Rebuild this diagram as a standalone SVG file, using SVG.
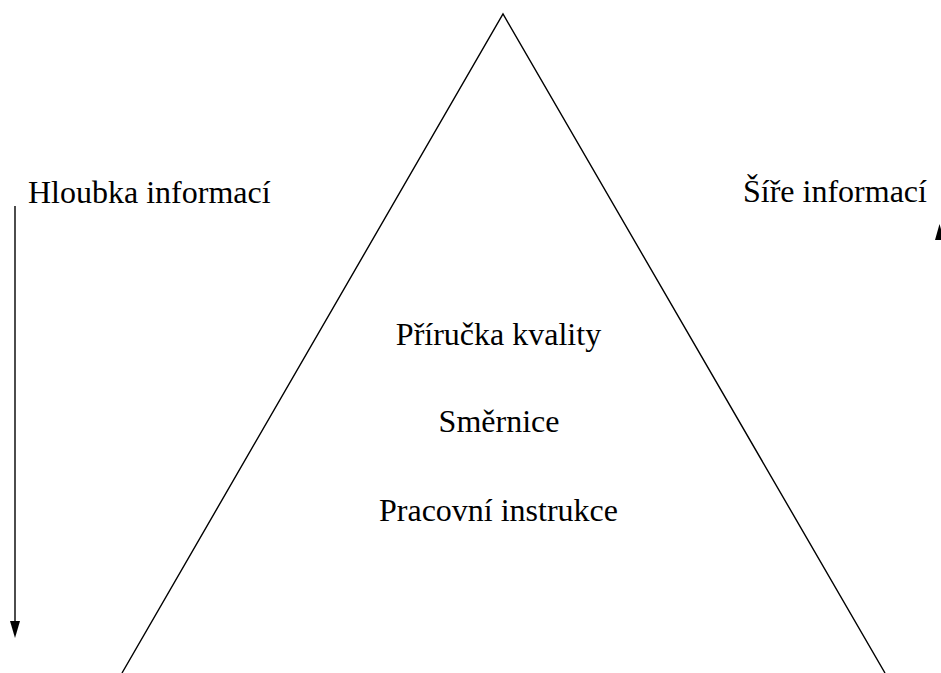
<svg xmlns="http://www.w3.org/2000/svg" width="941" height="673" viewBox="0 0 941 673">
<style>
text{font-family:"Liberation Serif","Times New Roman",serif;font-size:32px;fill:#000}
.ln{stroke:#000;stroke-width:1.4;fill:none}
</style>
<rect width="941" height="673" fill="#fff"/>
<g id="pyramid">
<polyline class="ln" points="122,673 503,14 885,673"/>
</g>
<g id="labels">
<text x="498.5" y="345" text-anchor="middle">Příručka kvality</text>
<text x="499" y="431.5" text-anchor="middle">Směrnice</text>
<text x="498.5" y="520.5" text-anchor="middle">Pracovní instrukce</text>
</g>
<g id="depth">
<text x="28" y="203">Hloubka informací</text>
</g>
<g id="breadth">
<text x="743" y="202">Šíře informací</text>
</g>
<g id="connectors">
<line class="ln" x1="15" y1="206" x2="15" y2="622" stroke-width="1.6"/>
<polygon points="10,621 20,621 15,638" fill="#000"/>
<polygon points="935,240 944,240 939.5,224" fill="#000"/>
</g>
</svg>
